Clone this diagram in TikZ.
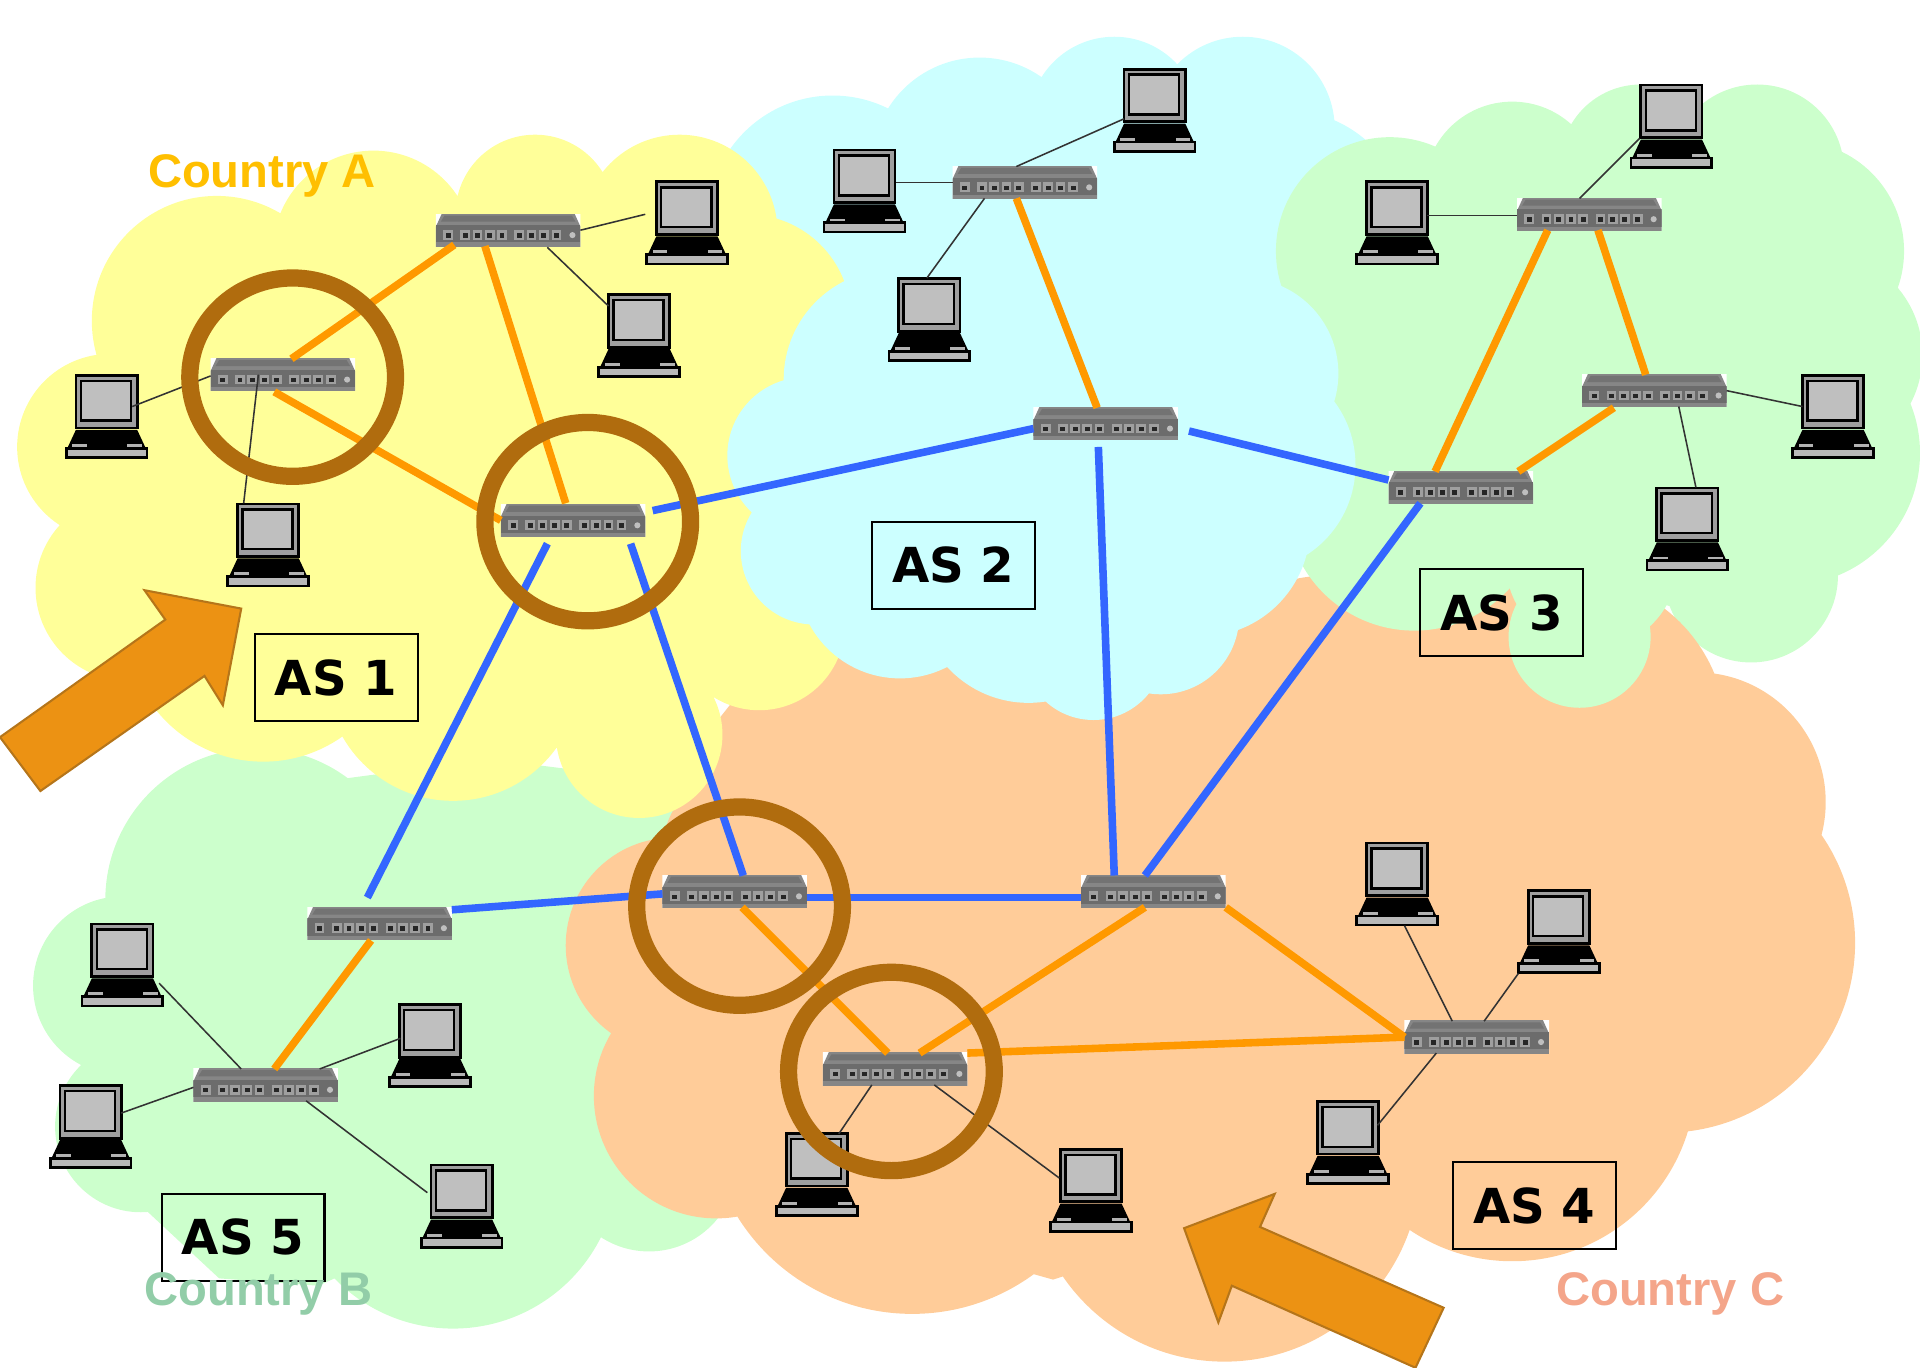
\documentclass[tikz,border=0pt]{standalone}
\usepackage{fontspec}
\setmainfont{Liberation Sans}
\newfontfamily\boxfont{DejaVu Sans}
\definecolor{cloudYellow}{HTML}{FFFF99}
\definecolor{cloudCyan}{HTML}{CCFFFF}
\definecolor{cloudGreen}{HTML}{CCFFCC}
\definecolor{cloudPeach}{HTML}{FFCC99}
\definecolor{linkBlue}{HTML}{3366FF}
\definecolor{linkOrange}{HTML}{FF9900}
\definecolor{ringBrown}{HTML}{B06C0E}
\definecolor{arrowFill}{HTML}{EC9213}
\definecolor{arrowEdge}{HTML}{B5751A}
\definecolor{countryA}{HTML}{FFBF00}
\definecolor{countryB}{HTML}{92CDA8}
\definecolor{countryC}{HTML}{F4A58A}
\begin{document}
\begin{tikzpicture}[x=0.0125cm,y=-0.0125cm]
\tikzset{hub/.style={
rectangle,inner sep=0pt,
minimum width=1.475cm,
minimum height=0.33cm,
path picture={
\begin{scope}[shift={(path picture bounding box.center)}]
\fill[white] (-60,-14) rectangle (60,14);
\fill[gray!95!white] (-54,-14) -- (54,-14) -- (59,-3) -- (59,14) -- (-59,14) -- (-59,-3) -- cycle;
\fill[gray!85!black] (-59,-4) rectangle (59,10);
\fill[gray!110!white] (-52,-12) -- (52,-12) -- (55,-7) -- (-55,-7) -- cycle;
\foreach \px in {-49,-35,-25,-15,-5,9,19,29,39.5} {
\fill[gray!75!white] (\px-4,0) rectangle (\px+4,8);
\fill[black!85] (\px-2,2.5) rectangle (\px+2,6);
}
\fill[gray!50!white] (52.5,4) circle (2.5);
\end{scope}
}}}

\tikzset{laptop/.style={
rectangle,inner sep=0pt,
minimum width=0.875cm,
minimum height=0.875cm,
path picture={
\begin{scope}[shift={(path picture bounding box.center)}]
\filldraw[fill=gray!75!white,draw=black,line width=0.8pt] (-25,-33.5) rectangle (25,9.5);
\filldraw[fill=gray!50!white,draw=black,line width=0.7pt] (-21,-29) rectangle (20,3.5);
\fill[black] (-25,11) -- (25,11) -- (32,26) -- (-32,26) -- cycle;
\fill[gray!60!white] (-28,22.5) rectangle (-16,25);
\fill[gray!60!white] (17,22.5) rectangle (29,25);
\filldraw[fill=gray!55!white,draw=black,line width=0.8pt] (-33,26) rectangle (33,33.5);
\end{scope}
}}}

\tikzset{asbox/.style={
rectangle,draw,black,line width=0.6pt,inner sep=0pt,
minimum width=1.6625cm,
minimum height=0.8875cm,
font=\boxfont\bfseries\fontsize{14}{17}\selectfont}}

\tikzset{country/.style={
inner sep=0pt,
font=\bfseries\fontsize{13.7}{16}\selectfont}}

\tikzset{hostLink/.style={line width=0.45pt,black!80}}
\tikzset{innerLink/.style={line width=2.2pt,linkOrange}}
\tikzset{outerLink/.style={line width=2.2pt,linkBlue}}
\tikzset{ring/.style={draw=ringBrown,line width=5pt}}
\tikzset{bigArrow/.style={fill=arrowFill,draw=arrowEdge,line width=0.6pt,line join=miter}}

\useasboundingbox (0,0) rectangle (1568,1117.2);

% cloud of AS 5
\fill[cloudGreen]
(210,735) circle (124) (100,805) circle (73) (115,920) circle (70)
(370,950) circle (135) (530,950) circle (72);
\fill[cloudGreen]
(100,750) -- (250,640) -- (400,620) -- (560,640) -- (600,900) -- (590,990) -- (500,1000)
-- (370,1000) -- (260,1050) -- (179,1044) -- (121,990) -- (60,900) -- cycle;

% cloud of AS 2, upper part
\fill[cloudCyan]
(680,180) circle (102) (800,135) circle (88) (910,100) circle (70)
(1015,105) circle (75) (1050,190) circle (100);
\fill[cloudCyan]
(620,200) -- (800,100) -- (1050,100) -- (1100,240) -- (700,300) -- cycle;

% cloud of AS 3
\fill[cloudGreen]
(1135,205) circle (93) (1235,155) circle (72) (1340,135) circle (66)
(1435,140) circle (71) (1465,205) circle (90) (1485,290) circle (85)
(1460,370) circle (108) (1430,470) circle (71);
\fill[cloudGreen]
(1090,200) -- (1240,130) -- (1440,140) -- (1500,300) -- (1460,470)
-- (1380,500) -- (1150,430) -- (1060,300) -- cycle;

% cloud of AS 4
\fill[cloudPeach]
(550,772) circle (88) (585,895) circle (100) (745,905) circle (168)
(1000,952) circle (160) (1235,880) circle (150) (1360,770) circle (155)
(1385,655) circle (106) (1280,600) circle (130) (1085,600) circle (130)
(620,700) circle (80);
\fill[cloudPeach]
(588,586) -- (640,520) -- (1100,500) -- (1350,560) -- (1450,750) -- (1300,900) -- (1000,1000)
-- (860,1045) -- (700,1000) -- (520,900) -- (500,780) -- cycle;

% lobes of AS 3 in front of AS 4
\fill[cloudGreen]
(1155,410) circle (105) (1290,520) circle (58) (1300,460) circle (70);

% cloud of AS 1
\fill[cloudYellow]
(177,262) circle (102) (305,205) circle (82) (437,175) circle (65)
(555,190) circle (80) (610,260) circle (85) (90,365) circle (76)
(105,480) circle (76) (215,510) circle (112) (370,550) circle (104)
(522,600) circle (68) (620,510) circle (70);
\fill[cloudYellow]
(100,300) -- (200,200) -- (550,200) -- (620,300) -- (650,500) -- (550,600)
-- (200,530) -- (100,480) -- cycle;

% cloud of AS 2, lower part
\fill[cloudCyan]
(730,310) circle (90) (658,372) circle (64) (665,450) circle (60)
(735,470) circle (84) (840,484) circle (90) (893,530) circle (58)
(948,503) circle (64) (980,430) circle (90) (1020,380) circle (87)
(1015,305) circle (78);
\fill[cloudCyan]
(700,240) -- (1047,242) -- (1020,400) -- (900,500) -- (700,480) -- (640,400) -- cycle;

\node[hub] (h1) at (231,306) {};
\node[hub] (h2) at (415,188) {};
\node[hub] (h3) at (468,425) {};
\node[hub] (h4) at (837,149) {};
\node[hub] (h5) at (903,346) {};
\node[hub] (h6) at (1298,175) {};
\node[hub] (h7) at (1351,319) {};
\node[hub] (h8) at (1193,398) {};
\node[hub] (h9) at (310,754) {};
\node[hub] (h10) at (217,886) {};
\node[hub] (h11) at (600,728) {};
\node[hub] (h12) at (942,728) {};
\node[hub] (h13) at (731,873) {};
\node[hub] (h14) at (1206,847) {};

\node[laptop] (p1) at (87,340) {};
\node[laptop] (p2) at (219,445) {};
\node[laptop] (p3) at (561,182) {};
\node[laptop] (p4) at (522,274) {};
\node[laptop] (p5) at (706,156) {};
\node[laptop] (p6) at (943,90) {};
\node[laptop] (p7) at (759,261) {};
\node[laptop] (p8) at (1141,182) {};
\node[laptop] (p9) at (1365,103) {};
\node[laptop] (p10) at (1497,340) {};
\node[laptop] (p11) at (1378,432) {};
\node[laptop] (p12) at (1141,722) {};
\node[laptop] (p13) at (1273,761) {};
\node[laptop] (p14) at (1101,933) {};
\node[laptop] (p15) at (667,959) {};
\node[laptop] (p16) at (891,972) {};
\node[laptop] (p17) at (100,788) {};
\node[laptop] (p18) at (74,920) {};
\node[laptop] (p19) at (351,854) {};
\node[laptop] (p20) at (377,985) {};

\draw[hostLink] ([shift={(-59,1)}]h1.center) -- ([shift={(21,-8)}]p1.center);
\draw[hostLink] ([shift={(-20,0)}]h1.center) -- ([shift={(-20,-34)}]p2.center);
\draw[hostLink] ([shift={(59,0)}]h2.center) -- ([shift={(-34,-7)}]p3.center);
\draw[hostLink] ([shift={(32,14)}]h2.center) -- ([shift={(-25,-24)}]p4.center);
\draw[hostLink] ([shift={(-59,0)}]h4.center) -- ([shift={(26,-7)}]p5.center);
\draw[hostLink] ([shift={(-7,-13)}]h4.center) -- ([shift={(-25,7)}]p6.center);
\draw[hostLink] ([shift={(-33,13)}]h4.center) -- ([shift={(-2,-34)}]p7.center);
\draw[hostLink] ([shift={(-59,1)}]h6.center) -- ([shift={(24,-6)}]p8.center);
\draw[hostLink] ([shift={(-8,-13)}]h6.center) -- ([shift={(-26,10)}]p9.center);
\draw[hostLink] ([shift={(59,0)}]h7.center) -- ([shift={(-25,-8)}]p10.center);
\draw[hostLink] ([shift={(20,13)}]h7.center) -- ([shift={(7,-34)}]p11.center);
\draw[hostLink] ([shift={(-20,-13)}]h10.center) -- ([shift={(30,15)}]p17.center);
\draw[hostLink] ([shift={(-59,2)}]h10.center) -- ([shift={(25,-11)}]p18.center);
\draw[hostLink] ([shift={(44,-13)}]h10.center) -- ([shift={(-24,-6)}]p19.center);
\draw[hostLink] ([shift={(33,13)}]h10.center) -- ([shift={(-28,-11)}]p20.center);
\draw[hostLink] ([shift={(-19,13)}]h13.center) -- ([shift={(18,-33)}]p15.center);
\draw[hostLink] ([shift={(32,13)}]h13.center) -- ([shift={(-26,-10)}]p16.center);
\draw[hostLink] ([shift={(-20,-13)}]h14.center) -- ([shift={(6,34)}]p12.center);
\draw[hostLink] ([shift={(6,-13)}]h14.center) -- ([shift={(-33,34)}]p13.center);
\draw[hostLink] ([shift={(-33,13)}]h14.center) -- ([shift={(24,-14)}]p14.center);

\draw[innerLink] ([shift={(7,-13)}]h1.center) -- ([shift={(-44,12)}]h2.center);
\draw[innerLink] ([shift={(-7,14)}]h1.center) -- ([shift={(-59,0)}]h3.center);
\draw[innerLink] ([shift={(-19,13)}]h2.center) -- ([shift={(-6,-14)}]h3.center);
\draw[innerLink] ([shift={(-7,13)}]h4.center) -- ([shift={(-7,-13)}]h5.center);
\draw[innerLink] ([shift={(-34,13)}]h6.center) -- ([shift={(-21,-13)}]h8.center);
\draw[innerLink] ([shift={(7,13)}]h6.center) -- ([shift={(-7,-13)}]h7.center);
\draw[innerLink] ([shift={(-33,14)}]h7.center) -- ([shift={(47,-13)}]h8.center);
\draw[innerLink] ([shift={(-7,14)}]h9.center) -- ([shift={(7,-13)}]h10.center);
\draw[innerLink] ([shift={(6,13)}]h11.center) -- ([shift={(-6,-13)}]h13.center);
\draw[innerLink] ([shift={(-7,13)}]h12.center) -- ([shift={(20,-13)}]h13.center);
\draw[innerLink] ([shift={(59,-13)}]h13.center) -- ([shift={(-59,0)}]h14.center);
\draw[innerLink] ([shift={(59,13)}]h12.center) -- ([shift={(-59,0)}]h14.center);

\draw[outerLink] ([shift={(65,-8)}]h3.center) -- ([shift={(-59,4)}]h5.center);
\draw[outerLink] ([shift={(68,6)}]h5.center) -- ([shift={(-59,-6)}]h8.center);
\draw[outerLink] ([shift={(-6,19)}]h5.center) -- ([shift={(-32,-13)}]h12.center);
\draw[outerLink] ([shift={(-33,13)}]h8.center) -- ([shift={(-7,-13)}]h12.center);
\draw[outerLink] ([shift={(-21,19)}]h3.center) -- ([shift={(-10,-21)}]h9.center);
\draw[outerLink] ([shift={(47,19)}]h3.center) -- ([shift={(7,-13)}]h11.center);
\draw[outerLink] ([shift={(59,-11)}]h9.center) -- ([shift={(-59,2)}]h11.center);
\draw[outerLink] ([shift={(59,5)}]h11.center) -- ([shift={(-59,5)}]h12.center);

\node[asbox] (as1) at (274.5,553.5) {\raisebox{-0.5pt}{AS 1}};
\node[asbox] (as2) at (778.5,461.5) {\raisebox{-0.5pt}{AS 2}};
\node[asbox] (as3) at (1226.5,500.5) {\raisebox{-0.5pt}{AS 3}};
\node[asbox] (as4) at (1253,984.5) {\raisebox{-0.5pt}{AS 4}};
\node[asbox] (as5) at (198.5,1010.5) {\raisebox{-0.5pt}{AS 5}};

\node[country,countryA] (ca) at (214,144) {Country A};
\node[country,countryB] (cb) at (211,1057) {Country B};
\node[country,countryC] (cc) at (1364,1057) {Country C};

\draw[ring] (239,308) ellipse (84 and 81);
\draw[ring] (480,426) ellipse (84 and 81);
\draw[ring] (604,740) ellipse (84 and 81);
\draw[ring] (728,875) ellipse (84 and 81);

\draw[bigArrow] (0,602) -- (33,646) -- (167,552) -- (182,576) -- (197,497) -- (118,482) -- (135,506) -- cycle;
\draw[bigArrow] (1041,975) -- (967,1003) -- (995,1080) -- (1006,1050) -- (1156,1117) -- (1179,1068) -- (1029,1002) -- cycle;

\end{tikzpicture}
\end{document}
